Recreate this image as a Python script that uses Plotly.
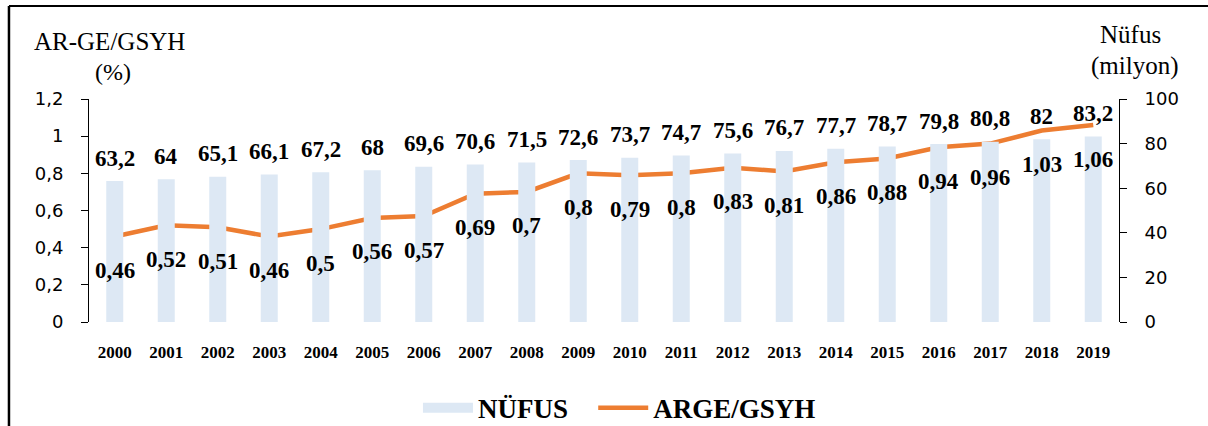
import plotly.graph_objects as go

years = list(range(2000, 2020))
nufus = [63.2, 64, 65.1, 66.1, 67.2, 68, 69.6, 70.6, 71.5, 72.6,
         73.7, 74.7, 75.6, 76.7, 77.7, 78.7, 79.8, 80.8, 82, 83.2]
arge = [0.46, 0.52, 0.51, 0.46, 0.5, 0.56, 0.57, 0.69, 0.7, 0.8,
        0.79, 0.8, 0.83, 0.81, 0.86, 0.88, 0.94, 0.96, 1.03, 1.06]
left_ticks = [0, 0.2, 0.4, 0.6, 0.8, 1, 1.2]
right_ticks = [0, 20, 40, 60, 80, 100]

def fmt(v):
    return ("%g" % v).replace(".", ",")

SERIF = "Liberation Serif"
SANS = "DejaVu Sans"
BAR_COLOR = "#DDE8F4"

fig = go.Figure()
fig.add_trace(go.Bar(x=years, y=nufus, name="<b>NÜFUS</b>", yaxis="y2", showlegend=False,
                     marker=dict(color=BAR_COLOR, line=dict(width=0)), width=0.33))
# legend proxy for the bar series (wide swatch like the reference)
fig.add_trace(go.Scatter(x=[None], y=[None], name="<b>NÜFUS</b>&nbsp;&nbsp;&nbsp;", mode="lines",
                         line=dict(color=BAR_COLOR, width=14), yaxis="y2"))
fig.add_trace(go.Scatter(x=years, y=arge, name="<b>ARGE/GSYH</b>", mode="lines",
                         line=dict(color="#ED7D31", width=4.5)))

ann = []
for x, v in zip(years, nufus):
    ann.append(dict(x=x, y=v, xref="x", yref="y2", text="<b>%s</b>" % fmt(v),
                    showarrow=False, yanchor="middle", yshift=23,
                    font=dict(family=SERIF, size=23, color="black")))
for x, v in zip(years, arge):
    ann.append(dict(x=x, y=v, xref="x", yref="y", text="<b>%s</b>" % fmt(v),
                    showarrow=False, yanchor="middle", yshift=-34,
                    font=dict(family=SERIF, size=23, color="black")))
ann += [
    dict(x=0.02, y=1.256, xref="paper", yref="paper", text="AR-GE/GSYH", showarrow=False,
         xanchor="center", yanchor="middle", font=dict(family=SERIF, size=25, color="black")),
    dict(x=0.023, y=1.121, xref="paper", yref="paper", text="(%)", showarrow=False,
         xanchor="center", yanchor="middle", font=dict(family=SERIF, size=24, color="black")),
    dict(x=1.011, y=1.287, xref="paper", yref="paper", text="Nüfus", showarrow=False,
         xanchor="center", yanchor="middle", font=dict(family=SERIF, size=25, color="black")),
    dict(x=1.0155, y=1.148, xref="paper", yref="paper", text="(milyon)", showarrow=False,
         xanchor="center", yanchor="middle", font=dict(family=SERIF, size=25, color="black")),
]

fig.update_layout(
    width=1208, height=426,
    margin=dict(l=89, r=89, t=99, b=104),
    paper_bgcolor="white", plot_bgcolor="white",
    showlegend=True,
    legend=dict(orientation="h", x=0.515, xanchor="center", xref="paper",
                y=0.042, yanchor="middle", yref="container",
                font=dict(family=SERIF, size=27, color="black"), traceorder="normal",
                itemwidth=50, bgcolor="rgba(0,0,0,0)"),
    annotations=ann,
    xaxis=dict(range=[1999.5, 2019.5], showline=False, showgrid=False, zeroline=False,
               ticks="", tickfont=dict(family=SERIF, size=17, color="black"),
               tickvals=years, ticktext=["<b>%d</b>" % y for y in years],
               ticklabelstandoff=18),
    yaxis=dict(range=[0, 1.2], tickvals=left_ticks, ticktext=[fmt(v) for v in left_ticks],
               showline=True, linecolor="black", linewidth=1, ticks="outside", ticklen=7,
               tickcolor="black", showgrid=False, zeroline=False,
               tickfont=dict(family=SANS, size=18, color="black"), ticklabelstandoff=14),
    yaxis2=dict(range=[0, 100], tickvals=right_ticks, ticktext=[fmt(v) for v in right_ticks],
                overlaying="y", side="right",
                showline=True, linecolor="black", linewidth=1, ticks="outside", ticklen=7,
                tickcolor="black", showgrid=False, zeroline=False,
                tickfont=dict(family=SANS, size=18, color="black"), ticklabelstandoff=14),
    shapes=[
        dict(type="line", xref="paper", yref="paper", x0=-0.0777, x1=-0.0777, y0=-0.49, y1=1.417,
             line=dict(color="black", width=2.5)),
        dict(type="line", xref="paper", yref="paper", x0=-0.0777, x1=1.09, y0=1.417, y1=1.417,
             line=dict(color="black", width=2)),
    ],
)
fig.write_html("out.html", config={"displayModeBar": False},
               post_script="document.body.style.margin='0px';")
